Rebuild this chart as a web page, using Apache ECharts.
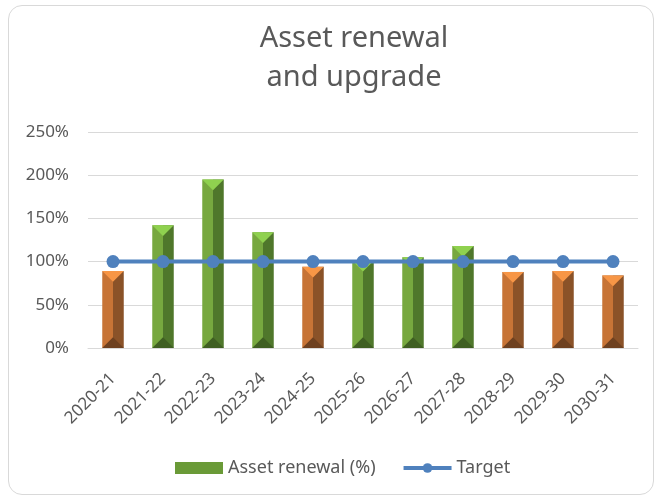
<!DOCTYPE html>
<html>
<head>
<meta charset="utf-8">
<script src="https://cdn.jsdelivr.net/npm/echarts@6/dist/echarts.min.js"></script>
<style>
  html, body { margin: 0; padding: 0; background: #fff; }
  #frame {
    position: absolute; left: 8px; top: 5px; width: 646px; height: 490px;
    border: 1px solid #d9d9d9; border-radius: 14px; box-sizing: border-box;
  }
  #chart { position: absolute; left: 0; top: 0; width: 660px; height: 498px; }
</style>
</head>
<body>
<div id="frame"></div>
<div id="chart"></div>
<script>
const years = ['2020-21', '2021-22', '2022-23', '2023-24', '2024-25', '2025-26',
  '2026-27', '2027-28', '2028-29', '2029-30', '2030-31']
const renewal = [89, 142, 195, 134, 94, 101, 105, 118, 88, 89, 84]
const target = [100, 100, 100, 100, 100, 100, 100, 100, 100, 100, 100]

const green = { front: '#77a83f', side: '#4f772b', top: '#8fd14f', bottom: '#3f5f22' }
const orange = { front: '#c77436', side: '#8a5228', top: '#f79646', bottom: '#6e4120' }

let myChart = echarts.init(document.getElementById('chart'))

// bevelled bar: front + dark side, lighter top cap, dark bottom cap
function renderBar(params, api) {
  const idx = api.value(0)
  const v = api.value(1)
  const top = api.coord([idx, v])
  const base = api.coord([idx, 0])
  const w = api.size([1, 0])[0] * 0.43
  const x0 = top[0] - w / 2, x1 = top[0] + w / 2, xc = top[0]
  const d = Math.min(w / 2, (base[1] - top[1]) / 2)
  const c = v >= 100 ? green : orange
  return {
    type: 'group',
    children: [
      { type: 'rect', shape: { x: x0, y: top[1], width: w / 2, height: base[1] - top[1] }, style: { fill: c.front } },
      { type: 'rect', shape: { x: xc, y: top[1], width: w / 2, height: base[1] - top[1] }, style: { fill: c.side } },
      { type: 'polygon', shape: { points: [[x0, top[1]], [x1, top[1]], [xc, top[1] + d]] }, style: { fill: c.top } },
      { type: 'polygon', shape: { points: [[x0, base[1]], [x1, base[1]], [xc, base[1] - d]] }, style: { fill: c.bottom } }
    ]
  }
}

myChart.setOption({
  animation: false,
  textStyle: { fontFamily: 'Noto Sans' },
  title: {
    text: 'Asset renewal\nand upgrade',
    left: 349,
    textAlign: 'center',
    top: 14,
    textStyle: { fontSize: 29, fontWeight: 'normal', color: '#595959', lineHeight: 39, fontFamily: 'Noto Sans' }
  },
  legend: {
    top: 454,
    left: 170,
    itemWidth: 48,
    itemHeight: 12,
    itemGap: 26,
    textStyle: { fontSize: 18, color: '#595959' },
    data: [
      { name: 'Asset renewal (%)', icon: 'rect', itemStyle: { color: '#6a9a37' } },
      { name: 'Target', lineStyle: { width: 4 } }
    ]
  },
  grid: { left: 88, right: 22, top: 132, bottom: 150 },
  xAxis: {
    type: 'category',
    data: years,
    axisLine: { lineStyle: { color: '#d9d9d9', width: 1 } },
    axisTick: { show: false },
    axisLabel: { rotate: 45, fontSize: 17, color: '#595959', margin: 28 }
  },
  yAxis: {
    type: 'value',
    min: 0,
    max: 250,
    interval: 50,
    axisLine: { show: false },
    axisTick: { show: false },
    axisLabel: { formatter: '{value}%', fontSize: 17, color: '#595959', margin: 19 },
    splitLine: { lineStyle: { color: '#d9d9d9', width: 1 } }
  },
  series: [
    {
      name: 'Asset renewal (%)',
      type: 'custom',
      renderItem: renderBar,
      encode: { x: 0, y: 1 },
      itemStyle: { color: '#6a9a37' },
      data: renewal.map((v, i) => [i, v]),
      z: 2
    },
    {
      name: 'Target',
      type: 'line',
      data: target,
      symbol: 'circle',
      symbolSize: 13,
      lineStyle: { color: '#4f81bd', width: 4 },
      itemStyle: { color: '#4f81bd' },
      z: 3
    }
  ]
})
</script>
</body>
</html>
